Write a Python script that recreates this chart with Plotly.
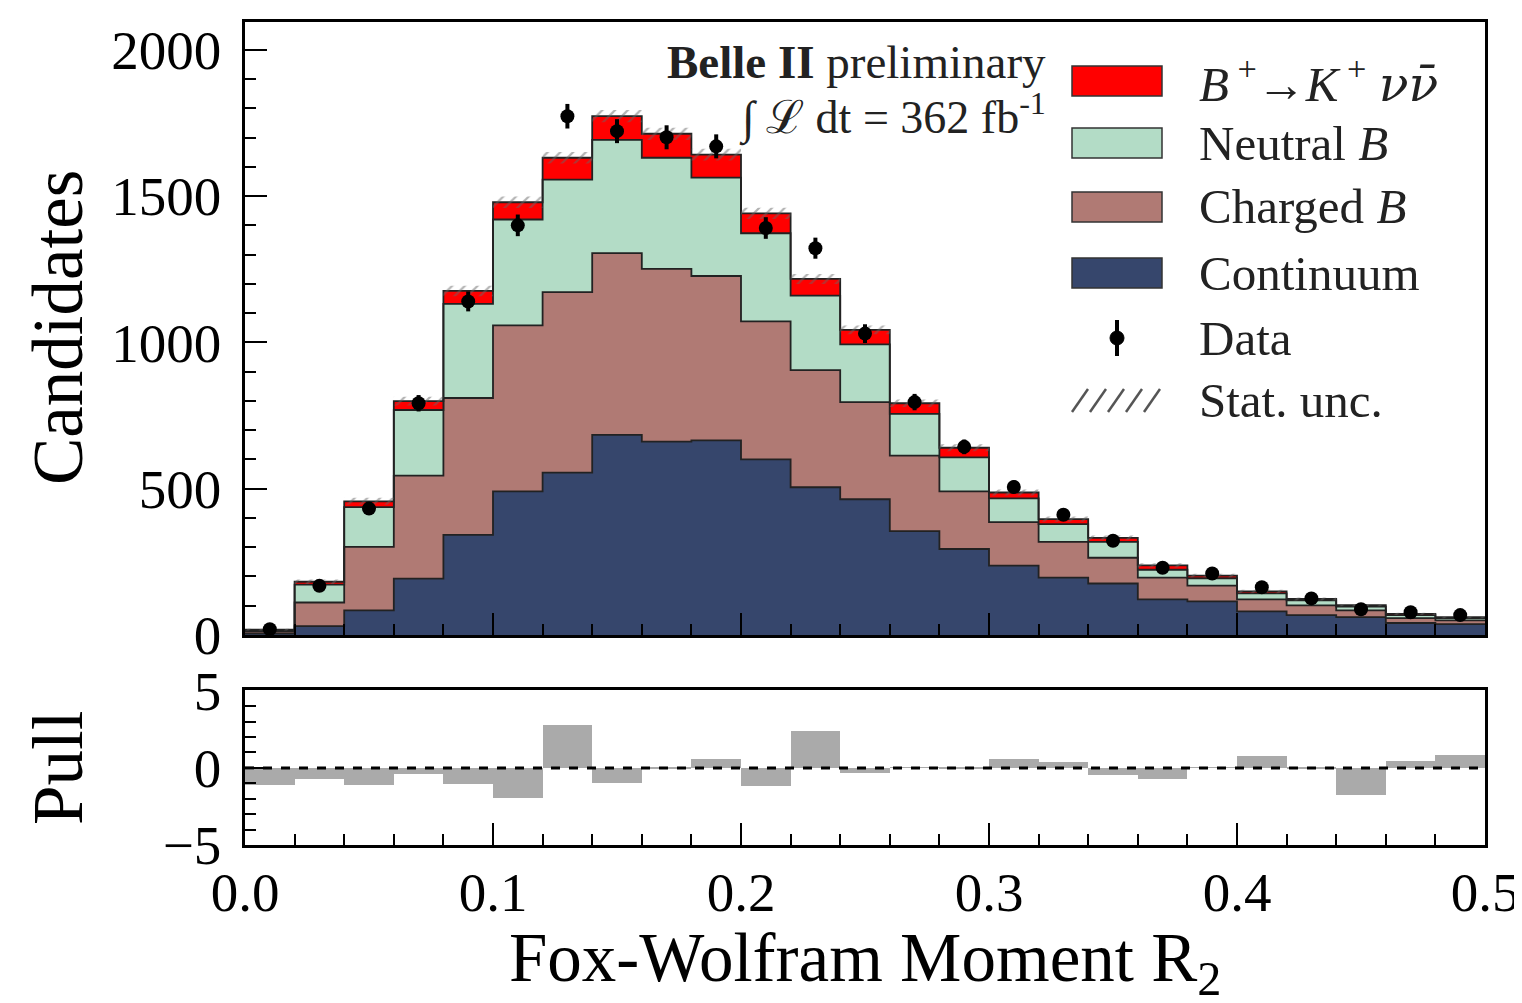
import numpy as np
import plotly.graph_objects as go

# binning of the Fox-Wolfram moment R2 (25 bins, width 0.02)
bin_edges = np.linspace(0.0, 0.5, 26)
bin_centers = 0.5 * (bin_edges[:-1] + bin_edges[1:])

# stacked templates (candidates per bin), bottom -> top
continuum = [5, 30, 84, 193, 342, 491, 555, 684, 661, 665, 600, 505, 464,
             355, 294, 237, 196, 176, 122, 115, 81, 68, 61, 41, 37]
charged_b = [7, 81, 217, 352, 468, 567, 617, 621, 590, 562, 472, 400, 332,
             258, 197, 149, 122, 88, 74, 54, 41, 33, 23, 17, 13]
neutral_b = [4, 61, 136, 224, 322, 362, 384, 387, 380, 336, 301, 255, 197,
             143, 116, 81, 61, 54, 27, 25, 20, 17, 13, 10, 8]
signal = [2, 10, 20, 30, 44, 59, 75, 81, 82, 79, 68, 57, 50,
          36, 33, 20, 17, 14, 15, 9, 7, 5, 5, 4, 3]
stat_unc = [3, 8, 12, 15, 18, 20, 20, 21, 21, 20, 19, 17, 15,
            13, 12, 10, 9, 8, 7, 6, 6, 5, 4, 4, 4]

# observed data
data = [20, 168, 432, 792, 1140, 1400, 1773, 1722, 1701, 1670, 1391, 1322, 1030,
        796, 643, 506, 411, 322, 230, 210, 163, 125, 88, 78, 68]
data_err = [5, 13, 21, 28, 34, 37, 42, 41, 41, 41, 37, 36, 32,
            28, 25, 22, 20, 18, 15, 14, 13, 11, 9, 9, 8]

# pull per bin
pulls = [-1.1, -0.7, -1.1, -0.37, -1.05, -1.95, 2.8, -0.95, -0.05, 0.6, -1.15, 2.4, -0.35,
         0.05, -0.05, 0.55, 0.4, -0.45, -0.7, 0.05, 0.75, -0.05, -1.75, 0.45, 0.85]

signal_label = ('<i>B</i><sup> +</sup>→<i>K</i><sup> +</sup> '
                '<span style="font-family:\'DejaVu Serif\'"><i>νν̄</i></span>')

layers = [
    ("Continuum", continuum, "#36466c"),
    ("Charged <i>B</i>", charged_b, "#b07a74"),
    ("Neutral <i>B</i>", neutral_b, "#b3dcc6"),
    (signal_label, signal, "#ff0000"),
]

FONT = "Liberation Serif"
PAGE_PAD = 8  # default body margin of the html page
W, H = 1522 - PAGE_PAD, 1003 - PAGE_PAD
# frame of the plot in page pixels
FRAME_L, FRAME_R, FRAME_T, FRAME_B = 245, 1485, 22, 845
MAIN_BOTTOM_PX = 635
PULL_TOP_PX = 690
L = FRAME_L - PAGE_PAD
T = FRAME_T - PAGE_PAD
R = W - (FRAME_R - PAGE_PAD)
B = H - (FRAME_B - PAGE_PAD)
plot_h = FRAME_B - FRAME_T


def dx(px):
    return (px - FRAME_L) / (FRAME_R - FRAME_L)


def dy(py):
    return (MAIN_BOTTOM_PX - py) / (MAIN_BOTTOM_PX - FRAME_T)


def py_paper(py):
    return (FRAME_B - py) / plot_h


fig = go.Figure()

# stacked step-filled histograms
cum = np.zeros(len(bin_centers))
for i, (name, vals, color) in enumerate(layers):
    cum = cum + np.array(vals, dtype=float)
    fig.add_trace(go.Scatter(
        x=bin_edges, y=np.append(cum, cum[-1]), mode="lines", line_shape="hv",
        line=dict(color="#222222", width=1.8), fill="tozeroy" if i == 0 else "tonexty",
        fillcolor=color, showlegend=False, hoverinfo="skip", xaxis="x", yaxis="y",
    ))
total = cum

# statistical uncertainty (hatched band)
unc = np.array(stat_unc, dtype=float)
lo = total - unc
hi = total + unc
fig.add_trace(go.Scatter(
    x=bin_edges, y=np.append(lo, lo[-1]), mode="lines", line_shape="hv",
    line=dict(width=0), showlegend=False, hoverinfo="skip", xaxis="x", yaxis="y",
))
fig.add_trace(go.Scatter(
    x=bin_edges, y=np.append(hi, hi[-1]), mode="lines", line_shape="hv",
    line=dict(width=0), fill="tonexty", fillcolor="rgba(0,0,0,0)",
    fillpattern=dict(shape="/", fgcolor="#666666", bgcolor="rgba(0,0,0,0)", size=9, solidity=0.25),
    showlegend=False, hoverinfo="skip", xaxis="x", yaxis="y",
))

# data points
fig.add_trace(go.Scatter(
    x=bin_centers, y=data, mode="markers",
    marker=dict(color="black", size=14),
    error_y=dict(type="data", array=data_err, color="black", thickness=4, width=0),
    showlegend=False, xaxis="x", yaxis="y",
))

# pull panel
fig.add_trace(go.Bar(
    x=bin_centers, y=pulls, width=0.02, marker=dict(color="#aaaaaa", line=dict(width=0)),
    showlegend=False, xaxis="x2", yaxis="y2",
))
fig.add_trace(go.Scatter(
    x=[0.0, 0.5], y=[0, 0], mode="lines", line=dict(color="black", width=3, dash="dash"),
    showlegend=False, hoverinfo="skip", xaxis="x2", yaxis="y2",
))

axis_common = dict(
    showline=True, linecolor="black", linewidth=2.5, mirror=True,
    ticks="inside", tickcolor="black", tickwidth=2, ticklen=22,
    showgrid=False, zeroline=False, automargin=False,
    tickfont=dict(family=FONT, size=55, color="black"),
)

main_bottom = py_paper(MAIN_BOTTOM_PX)
pull_top = py_paper(PULL_TOP_PX)

fig.update_layout(
    width=W, height=H, margin=dict(l=L, r=R, t=T, b=B),
    paper_bgcolor="white", plot_bgcolor="white",
    font=dict(family=FONT, color="black"),
    xaxis=dict(axis_common, domain=[0, 1], anchor="y", range=[0, 0.5], tick0=0, dtick=0.1,
               showticklabels=False,
               minor=dict(dtick=0.02, ticks="inside", ticklen=11, tickcolor="black", tickwidth=2)),
    yaxis=dict(axis_common, domain=[main_bottom, 1], anchor="x", range=[0, 2095], tick0=0, dtick=500,
               ticklabelstandoff=10,
               minor=dict(dtick=100, ticks="inside", ticklen=11, tickcolor="black", tickwidth=2)),
    xaxis2=dict(axis_common, domain=[0, 1], anchor="y2", range=[0, 0.5], matches="x",
                tick0=0, dtick=0.1, tickformat=".1f", ticklabelstandoff=-3,
                ticklabeloverflow="allow",
                minor=dict(dtick=0.02, ticks="inside", ticklen=11, tickcolor="black", tickwidth=2)),
    yaxis2=dict(axis_common, domain=[0, pull_top], anchor="x2", range=[-5, 5.05],
                tickvals=[-5, 0, 5], ticklabelstandoff=10,
                minor=dict(dtick=1, ticks="inside", ticklen=11, tickcolor="black", tickwidth=2)),
    bargap=0,
)


def label(text, px, py, size, xanchor="center", angle=0, color="black", ref="paper"):
    if ref == "paper":
        xr, yr, x, y = "paper", "paper", dx(px), py_paper(py)
    else:
        xr, yr, x, y = "x domain", "y domain", dx(px), dy(py)
    fig.add_annotation(text=text, xref=xr, yref=yr, x=x, y=y, xanchor=xanchor, yanchor="middle",
                       textangle=angle, showarrow=False,
                       font=dict(family=FONT, size=size, color=color))


# axis titles
label("Candidates", 58, 328, 71, angle=-90)
label("Pull", 58, 768, 71, angle=-90)
label("Fox-Wolfram Moment R<sub>2</sub>", 865, 962, 69)

# experiment label
label("<b>Belle II</b> preliminary", 1048, 62, 47, xanchor="right", color="#222222", ref="dom")
label("∫ ℒ dt = 362 fb<sup>-1</sup>", 1048, 116, 46, xanchor="right", color="#222222", ref="dom")

# legend (drawn by hand to get the wide swatches)
for (name, _, color), yc in zip(layers[::-1], [81, 143, 207, 273]):
    fig.add_shape(type="rect", xref="x domain", yref="y domain",
                  x0=dx(1072), x1=dx(1162), y0=dy(yc + 15), y1=dy(yc - 15),
                  fillcolor=color, line=dict(color="#333333", width=1.5))
    label(name, 1197, yc, 49, xanchor="left", color="#222222", ref="dom")

fig.add_shape(type="line", xref="x domain", yref="y domain", x0=dx(1117), x1=dx(1117),
              y0=dy(356), y1=dy(320), line=dict(color="black", width=4))
fig.add_shape(type="circle", xref="x domain", yref="y domain", x0=dx(1110), x1=dx(1124),
              y0=dy(345), y1=dy(331), fillcolor="black", line=dict(color="black", width=1))
label("Data", 1197, 338, 49, xanchor="left", color="#222222", ref="dom")

for x0 in [1072, 1090, 1108, 1126, 1144]:
    fig.add_shape(type="line", xref="x domain", yref="y domain", x0=dx(x0), x1=dx(x0 + 16),
                  y0=dy(412), y1=dy(389), line=dict(color="#555555", width=2.5))
label("Stat. unc.", 1197, 400, 49, xanchor="left", color="#222222", ref="dom")

fig.write_html("out.html")
